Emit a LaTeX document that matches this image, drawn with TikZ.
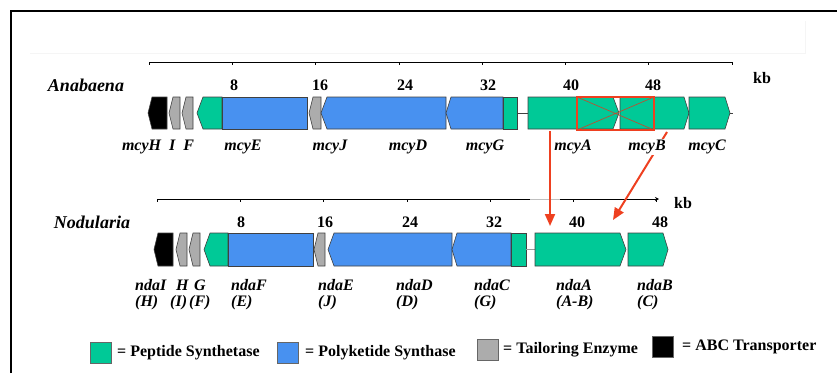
\documentclass[tikz,border=0pt]{standalone}
\usepackage{fontspec}
\setmainfont{Liberation Serif}
\usepackage{tikz}
\usetikzlibrary{arrows.meta}
\definecolor{pepgreen}{RGB}{0,201,151}
\definecolor{pksblue}{RGB}{72,145,240}
\definecolor{tailgray}{RGB}{172,172,172}
\definecolor{hitred}{RGB}{238,64,32}
\definecolor{crossred}{RGB}{185,80,50}

\begin{document}
\begin{tikzpicture}[x=1pt,y=-1pt,
  gene/.style={draw=black!75, line width=0.6pt},
  pep/.style={gene, fill=pepgreen},
  pks/.style={gene, fill=pksblue},
  tail/.style={gene, fill=tailgray},
  abc/.style={gene, fill=black},
  kbnum/.style={font=\fontsize{16}{18}\selectfont\bfseries, inner sep=0pt},
  org/.style={font=\fontsize{18}{20}\selectfont\bfseries\itshape, inner sep=0pt},
  glab/.style={font=\fontsize{16}{18}\selectfont\bfseries\itshape, inner sep=1pt, fill=white},
  nlab/.style={glab, anchor=west},
  leg/.style={font=\fontsize{16}{18}\selectfont\bfseries, anchor=west, inner sep=0pt},
  legbox/.style={draw=black!60, line width=0.8pt, minimum width=21pt, minimum height=21pt, inner sep=0pt},
  hit/.style={hitred, line width=2pt, -{Triangle[length=12pt,width=10pt]}}]
\useasboundingbox (0,0) rectangle (837,373);

\draw[black!4] (30,53) -- (805,53) -- (805,21);
\draw[line width=2pt] (11,373) -- (11,11) -- (837,11);

\node[org] (anab) at (86,85) {Anabaena};
\node[org] (nodu) at (92,222) {Nodularia};

\draw[line width=0.8pt] (149,62) -- (732,62);
\foreach \k in {0,...,7} \draw[line width=0.8pt] (149+83.3*\k,62) -- ++(0,3);
\foreach \n/\x in {8/234,16/320,24/405,32/488,40/571,48/653}
  \node[kbnum] (a\n) at (\x,85) {\n};
\node[kbnum] (akb) at (762,78) {kb};

\draw[line width=0.8pt] (157,199) -- (530,199);
\draw[black!25, line width=0.8pt] (530,199) -- (560,199);
\draw[line width=0.8pt, -{Stealth[length=4pt,width=4pt]}] (560,199) -- (659,199);
\foreach \k in {0,...,6} \draw[line width=0.8pt] (157+83.3*\k,199) -- ++(0,3);
\foreach \n/\x in {8/241,16/325,24/410,32/494,40/577,48/660}
  \node[kbnum] (n\n) at (\x,222) {\n};
\node[kbnum] (nkb) at (683,203) {kb};

\draw[abc] (148,113) -- (152,97) -- (167,97) -- (167,129) -- (152,129) -- cycle;
\draw[tail] (169,113) -- (173,97) -- (180,97) -- (180,129) -- (173,129) -- cycle;
\draw[tail] (182,113) -- (186,97) -- (193,97) -- (193,129) -- (186,129) -- cycle;
\draw[pep] (197,113) -- (203,97) -- (222,97) -- (222,129) -- (203,129) -- cycle;
\draw[pks] (222,97) rectangle (307,129);
\draw[tail] (309,113) -- (313,97) -- (321,97) -- (321,129) -- (313,129) -- cycle;
\draw[pks] (321,113) -- (327,97) -- (446,97) -- (446,129) -- (327,129) -- cycle;
\draw[pks] (446,113) -- (451,97) -- (503,97) -- (503,129) -- (451,129) -- cycle;
\draw[pep] (503,97) rectangle (517,129);
\draw[gene] (517,113) -- (528,113);
\draw[pep] (528,97) -- (613,97) -- (619,113) -- (613,129) -- (528,129) -- cycle;
\draw[pep] (620,97) -- (684,97) -- (689,113) -- (684,129) -- (620,129) -- cycle;
\draw[pep] (689,97) -- (725,97) -- (730,113) -- (725,129) -- (689,129) -- cycle;
\draw[gene] (730,113) -- (733,113);

\draw[crossred, line width=0.7pt] (577,97) -- (654,130) (577,130) -- (654,97);
\draw[hitred, line width=2.5pt] (577,97) rectangle (654,130);

\draw[abc] (154,249.5) -- (158,233) -- (173,233) -- (173,266) -- (158,266) -- cycle;
\draw[tail] (176,249.5) -- (180,233) -- (187,233) -- (187,266) -- (180,266) -- cycle;
\draw[tail] (189,249.5) -- (193,233) -- (200,233) -- (200,266) -- (193,266) -- cycle;
\draw[pep] (204,249.5) -- (210,233) -- (228,233) -- (228,266) -- (210,266) -- cycle;
\draw[pks] (228,233) rectangle (313,266);
\draw[tail] (314,249.5) -- (318,233) -- (325,233) -- (325,266) -- (318,266) -- cycle;
\draw[pks] (328,249.5) -- (334,233) -- (452,233) -- (452,266) -- (334,266) -- cycle;
\draw[pks] (452,249.5) -- (457,233) -- (511,233) -- (511,266) -- (457,266) -- cycle;
\draw[pep] (511,233) rectangle (526,266);
\draw[black!40, line width=0.6pt] (526,249.5) -- (535,249.5);
\draw[pep] (535,233) -- (620,233) -- (626,249.5) -- (620,266) -- (535,266) -- cycle;
\draw[pep] (628,233) -- (663,233) -- (668,249.5) -- (663,266) -- (628,266) -- cycle;

\coordinate (mcyAfoot) at (550,131);
\coordinate (ndaAhead) at (550,226);
\coordinate (mcyBfoot) at (667,132);
\coordinate (ndaAside) at (613,220);
\draw[hit] (mcyAfoot) -- (ndaAhead);
\draw[hit] (mcyBfoot) -- (ndaAside);

\node[glab] (lmcyHIF) at (158,147) {mcyH\ \ I\ \ F};
\node[glab] (lmcyE) at (243,147) {mcyE};
\node[glab] (lmcyJ) at (330,147) {mcyJ};
\node[glab] (lmcyD) at (408,147) {mcyD};
\node[glab] (lmcyG) at (485,147) {mcyG};
\node[glab] (lmcyA) at (573,147) {mcyA};
\node[glab] (lmcyB) at (647,147) {mcyB};
\node[glab] (lmcyC) at (707,147) {mcyC};

\node[nlab] (lndaI) at (134,285) {ndaI};
\node[nlab] (lndaH) at (175,285) {H};
\node[nlab] (lndaG) at (193,285) {G};
\node[nlab] (lndaF) at (230,285) {ndaF};
\node[nlab] (lndaE) at (317,285) {ndaE};
\node[nlab] (lndaD) at (395,285) {ndaD};
\node[nlab] (lndaC) at (473,285) {ndaC};
\node[nlab] (lndaA) at (555,285) {ndaA};
\node[nlab] (lndaB) at (636,285) {ndaB};
\node[nlab] (oldH) at (134,303) {(H)};
\node[nlab] (oldI) at (169,303) {(I)};
\node[nlab] (oldF) at (188,303) {(F)};
\node[nlab] (oldE) at (230,303) {(E)};
\node[nlab] (oldJ) at (317,303) {(J)};
\node[nlab] (oldD) at (395,303) {(D)};
\node[nlab] (oldG) at (473,303) {(G)};
\node[nlab] (oldAB) at (555,303) {(A-B)};
\node[nlab] (oldC) at (636,303) {(C)};

\node[legbox, fill=pepgreen] (kpep) at (101,352.5) {};
\node[leg] (tpep) at (117,353) {= Peptide Synthetase};
\node[legbox, fill=pksblue] (kpks) at (287.5,352.5) {};
\node[leg] (tpks) at (305,353) {= Polyketide Synthase};
\node[legbox, fill=tailgray] (ktail) at (487.5,349.5) {};
\node[leg] (ttail) at (503,350) {= Tailoring Enzyme};
\node[legbox, fill=black] (kabc) at (663,346.5) {};
\node[leg] (tabc) at (682,347) {= ABC Transporter};
\end{tikzpicture}
\end{document}
